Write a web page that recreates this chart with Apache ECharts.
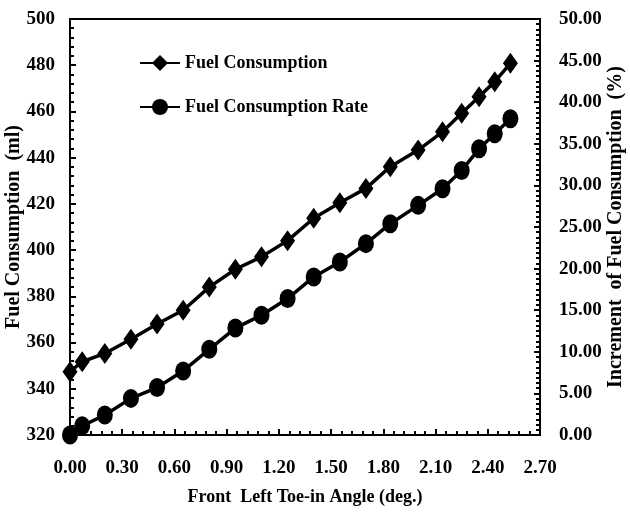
<!DOCTYPE html>
<html>
<head>
<meta charset="utf-8">
<script src="https://cdn.jsdelivr.net/npm/echarts@6/dist/echarts.min.js"></script>
<style>
html,body{margin:0;padding:0;background:#fff;}
#chart{width:630px;height:522px;}
</style>
</head>
<body>
<div id="chart"></div>
<script>
const angles = [0, 0.07, 0.2, 0.35, 0.5, 0.65, 0.8, 0.95, 1.1, 1.25, 1.4, 1.55, 1.7, 1.84, 2.0, 2.14, 2.25, 2.35, 2.44, 2.53];
const fuelConsumption = [347.4, 351.7, 355.3, 361.4, 368.0, 374.0, 384.0, 391.7, 397.1, 404.1, 413.8, 420.5, 426.7, 436.1, 443.3, 451.2, 459.2, 466.4, 472.9, 480.8];
const fuelRate = [0.0, 1.1, 2.4, 4.4, 5.7, 7.7, 10.3, 12.85, 14.4, 16.4, 19.0, 20.8, 23.0, 25.4, 27.6, 29.6, 31.8, 34.4, 36.2, 38.0];
const seriesNames = ['Fuel Consumption', 'Fuel Consumption Rate'];

const FONT = 'Liberation Serif';
const chart = echarts.init(document.getElementById('chart'));
const tickLabel = {color:'#000', fontFamily:FONT, fontWeight:'bold', fontSize:19};
const nameStyle = {color:'#000', fontFamily:FONT, fontWeight:'bold', fontSize:20};
chart.setOption({
  animation:false,
  backgroundColor:'#fff',
  grid:{left:70, right:90, top:19, bottom:87, outerBoundsMode:'none', containLabel:false,
        show:true, borderColor:'#000', borderWidth:2, backgroundColor:'transparent'},
  legend:{
    orient:'vertical', left:134, top:49, itemGap:26, itemWidth:40, itemHeight:20,
    textStyle:{color:'#000', fontFamily:FONT, fontWeight:'bold', fontSize:18},
    data:seriesNames
  },
  xAxis:{
    type:'value', min:0, max:2.7, interval:0.3,
    name:'Front  Left Toe-in Angle (deg.)', nameLocation:'middle', nameGap:53, nameMoveOverlap:false,
    nameTextStyle:Object.assign({}, nameStyle, {fontSize:18}),
    axisLine:{lineStyle:{color:'#000', width:2}},
    axisTick:{inside:true, length:6, lineStyle:{color:'#000', width:2}},
    minorTick:{show:true, splitNumber:5, length:4, lineStyle:{color:'#000', width:2}},
    splitLine:{show:false},
    axisLabel:Object.assign({margin:24, formatter:v=>v.toFixed(2)}, tickLabel)
  },
  yAxis:[{
    type:'value', min:320, max:500, interval:20, position:'left',
    name:'Fuel Consumption  (ml)', nameLocation:'middle', nameGap:46, nameRotate:90, nameMoveOverlap:false, nameTextStyle:nameStyle,
    axisLine:{show:true, lineStyle:{color:'#000', width:2}},
    axisTick:{show:true, inside:true, length:6, lineStyle:{color:'#000', width:2}},
    minorTick:{show:true, splitNumber:5, length:4, lineStyle:{color:'#000', width:2}},
    splitLine:{show:false},
    axisLabel:Object.assign({margin:15}, tickLabel)
  },{
    type:'value', min:0, max:50, interval:5, position:'right',
    name:'Increment  of Fuel Consumption  (%)', nameLocation:'middle', nameGap:66, nameRotate:90, nameMoveOverlap:false, nameTextStyle:nameStyle,
    axisLine:{show:true, lineStyle:{color:'#000', width:2}},
    axisTick:{show:true, inside:true, length:6, lineStyle:{color:'#000', width:2}},
    minorTick:{show:true, splitNumber:8, length:4, lineStyle:{color:'#000', width:2}},
    splitLine:{show:false},
    axisLabel:Object.assign({margin:19, formatter:v=>v.toFixed(2)}, tickLabel)
  }],
  series:[{
    name:seriesNames[0], type:'line', yAxisIndex:0,
    data:angles.map((x,i)=>[x, fuelConsumption[i]]),
    symbol:'diamond', symbolSize:[15,21],
    lineStyle:{color:'#000', width:3.5}, itemStyle:{color:'#000'}
  },{
    name:seriesNames[1], type:'line', yAxisIndex:1,
    data:angles.map((x,i)=>[x, fuelRate[i]]),
    symbol:'circle', symbolSize:[16,19],
    lineStyle:{color:'#000', width:3.5}, itemStyle:{color:'#000'}
  }]
});
</script>
</body>
</html>
